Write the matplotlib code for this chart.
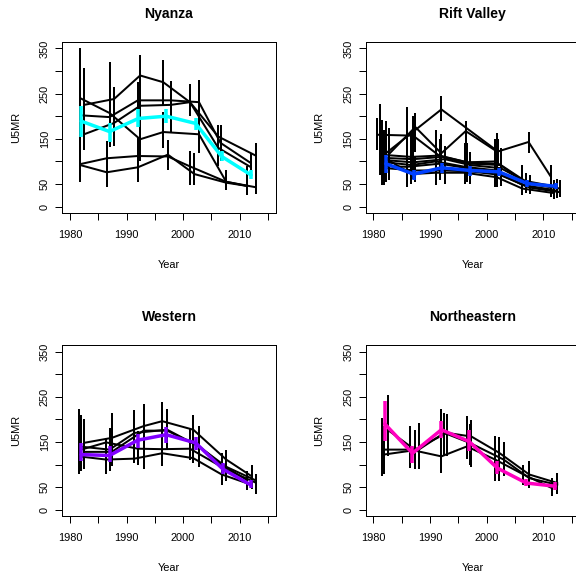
import matplotlib
matplotlib.use("Agg")
import matplotlib.pyplot as plt

plt.rcParams['font.family'] = ['Liberation Sans', 'DejaVu Sans']

W, H = 576, 572

region_names = ["Nyanza", "Rift Valley", "Western", "Northeastern"]
region_colors = ["#00FFFF", "#0040FF", "#8000FF", "#FF00BF"]

x_ticks = [1980, 1985, 1990, 1995, 2000, 2005, 2010, 2015]
x_tick_labels = ["1980", "", "1990", "", "2000", "", "2010", ""]
y_ticks = [0, 50, 100, 150, 200, 250, 300, 350]
y_tick_labels = ["0", "50", "", "150", "", "250", "", "350"]
x_label = "Year"
y_label = "U5MR"

# ---------------- Nyanza ----------------
nyanza_years = [
    [1982.5, 1987.8, 1992.4, 1996.5, 2001.2, 2006.2, 2012.8],
    [1981.8, 1987.0, 1992.0, 1997.8, 2002.8, 2006.6, 2012.0],
    [1982.5, 1987.8, 1992.4, 1997.8, 2001.2, 2006.2, 2012.0],
    [1981.8, 1987.0, 1992.4, 1996.5, 2002.8, 2007.6, 2011.2],
    [1981.8, 1986.5, 1992.0, 1997.3, 2001.2, 2007.6, 2012.8],
    [1981.8, 1986.5, 1992.0, 1997.3, 2002.0, 2007.6, 2011.2],
]
nyanza_u5mr = [
    [225, 238, 290, 275, 231, 155, 113],
    [202, 198, 235, 235, 231, 141, 96],
    [160, 185, 223, 225, 231, 130, 87],
    [240, 207, 149, 165, 160, 55, 46],
    [94, 107, 112, 111, 89, 55, 43],
    [92, 76, 87, 115, 72, 53, 46],
]
nyanza_lo = [
    [140, 180, 235, 225, 200, 125, 85],
    [150, 133, 178, 195, 178, 100, 72],
    [125, 135, 170, 166, 200, 89, 65],
    [170, 160, 100, 130, 118, 36, 26],
    [55, 65, 80, 80, 48, 36, 27],
    [55, 44, 55, 89, 48, 36, 26],
]
nyanza_hi = [
    [307, 265, 335, 325, 272, 181, 141],
    [350, 320, 275, 277, 280, 181, 118],
    [200, 240, 275, 277, 272, 160, 110],
    [350, 320, 200, 210, 200, 81, 90],
    [152, 145, 155, 148, 122, 81, 100],
    [150, 117, 132, 148, 118, 75, 90],
]
nyanza_mean_years = [1982.0, 1987.0, 1992.1, 1997.0, 2002.2, 2006.8, 2012.0]
nyanza_mean = [189, 166, 195, 200, 184, 111, 70]
nyanza_mean_lo = [155, 144, 176, 184, 169, 100, 61]
nyanza_mean_hi = [223, 185, 215, 216, 196, 122, 81]

# ---------------- Rift Valley ----------------
rift_years = [
    [1982.3, 1992.0, 2002.0, 2007.4, 2011.3],
    [1982.8, 1987.4, 1992.0, 1996.3, 2001.8],
    [1980.7, 1987.0, 1991.7, 1996.6, 2001.5],
    [1981.2, 1986.7, 1991.7, 1996.6, 2001.5, 2006.3, 2011.9],
    [1981.5, 1987.0, 1992.0, 1997.1, 2002.5, 2007.0, 2012.5],
    [1981.9, 1987.0, 1992.6, 1997.1, 2002.5, 2007.7, 2012.9],
    [1982.3, 1986.7, 1991.0, 1996.2, 2001.8, 2006.3, 2011.3],
    [1981.9, 1985.9, 1991.7, 1996.6, 2001.5, 2007.0, 2012.5],
    [1982.3, 1987.4, 1992.6, 1997.1, 2002.5, 2007.7, 2012.9],
    [1981.5, 1986.7, 1991.0, 1996.2, 2001.8, 2006.3, 2011.9],
]
rift_u5mr = [
    [119, 215, 122, 143, 67],
    [117, 176, 118, 167, 122],
    [159, 157, 112, 98, 95],
    [115, 110, 113, 98, 100, 58, 45],
    [108, 105, 110, 95, 92, 55, 42],
    [103, 98, 105, 92, 85, 50, 40],
    [98, 92, 100, 88, 80, 48, 38],
    [90, 88, 95, 85, 75, 45, 35],
    [85, 80, 80, 78, 70, 42, 32],
    [112, 72, 75, 75, 65, 40, 30],
]
rift_lo = [
    [70, 189, 90, 118, 30],
    [60, 120, 80, 120, 70],
    [125, 110, 75, 65, 55],
    [70, 60, 75, 70, 60, 35, 28],
    [48, 70, 80, 70, 60, 36, 25],
    [50, 62, 60, 60, 55, 35, 28],
    [55, 50, 48, 60, 50, 27, 22],
    [48, 44, 60, 55, 44, 30, 20],
    [55, 55, 50, 50, 45, 28, 22],
    [70, 50, 48, 50, 44, 25, 18],
]
rift_hi = [
    [190, 244, 150, 166, 92],
    [175, 207, 160, 189, 163],
    [195, 200, 150, 140, 140],
    [226, 160, 145, 130, 150, 92, 60],
    [192, 140, 140, 120, 130, 75, 62],
    [170, 135, 135, 120, 120, 70, 60],
    [160, 130, 169, 140, 115, 80, 75],
    [150, 220, 130, 120, 110, 65, 55],
    [130, 110, 115, 105, 100, 60, 48],
    [165, 105, 110, 100, 95, 60, 45],
]
rift_mean_years = [1982.2, 1987.1, 1992.1, 1997.1, 2002.2, 2007.2, 2012.2]
rift_mean = [95, 72, 86, 80, 77, 51, 45]
rift_mean_lo = [74, 59, 74, 68, 68, 43, 38]
rift_mean_hi = [115, 81, 96, 89, 85, 59, 53]

# ---------------- Western ----------------
western_years = [
    [1982.5, 1987.4, 1993.0, 1996.3, 2001.8, 2007.6, 2012.1],
    [1981.6, 1987.0, 1991.4, 1997.2, 2002.8, 2006.8, 2011.2],
    [1982.0, 1986.4, 1992.0, 1996.3, 2001.2, 2007.6, 2012.8],
    [1981.6, 1986.4, 1991.4, 1996.3, 2001.8, 2006.8, 2012.1],
    [1982.5, 1987.4, 1993.0, 1997.2, 2002.8, 2007.6, 2012.8],
]
western_u5mr = [
    [148, 159, 185, 196, 177, 111, 74],
    [140, 133, 170, 177, 140, 100, 66],
    [133, 149, 135, 134, 135, 89, 60],
    [118, 111, 113, 125, 114, 78, 55],
    [128, 128, 175, 175, 140, 95, 65],
]
western_lo = [
    [89, 96, 89, 96, 103, 63, 52],
    [78, 85, 103, 133, 95, 55, 43],
    [85, 78, 100, 96, 111, 63, 35],
    [80, 78, 103, 96, 103, 55, 45],
    [90, 96, 130, 133, 105, 70, 40],
]
western_hi = [
    [201, 213, 233, 238, 210, 133, 98],
    [222, 181, 220, 222, 185, 125, 85],
    [210, 159, 175, 175, 179, 120, 68],
    [175, 150, 160, 170, 150, 111, 85],
    [180, 200, 225, 210, 170, 130, 80],
]
western_mean_years = [1982.0, 1987.0, 1992.0, 1997.0, 2002.2, 2007.0, 2011.9]
western_mean = [122, 120, 154, 166, 148, 90, 55]
western_mean_lo = [107, 105, 137, 148, 133, 78, 48]
western_mean_hi = [148, 140, 168, 183, 162, 103, 66]

# ---------------- Northeastern ----------------
northeastern_years = [
    [1982.5, 1987.3, 1993.0, 1997.3, 2002.2, 2007.5, 2012.5],
    [1981.5, 1986.5, 1992.0, 1996.5, 2001.5, 2006.5, 2011.5],
    [1981.8, 1988.0, 1992.5, 1997.0, 2003.0, 2007.5, 2012.5],
]
northeastern_u5mr = [
    [177, 133, 170, 162, 126, 78, 59],
    [133, 133, 118, 140, 111, 78, 48],
    [122, 133, 170, 148, 111, 70, 55],
]
northeastern_lo = [
    [118, 89, 118, 95, 63, 50, 35],
    [74, 92, 81, 112, 63, 55, 30],
    [80, 89, 120, 100, 74, 48, 38],
]
northeastern_hi = [
    [255, 177, 212, 198, 160, 108, 82],
    [203, 185, 223, 208, 164, 100, 70],
    [185, 192, 215, 190, 149, 98, 75],
]
northeastern_mean_years = [1982.0, 1986.9, 1992.0, 1996.9, 2001.9, 2007.0, 2012.1]
northeastern_mean = [190, 125, 177, 151, 92, 59, 52]
northeastern_mean_lo = [151, 103, 159, 129, 78, 52, 43]
northeastern_mean_hi = [240, 142, 196, 176, 107, 68, 61]

panels = [
    (nyanza_years, nyanza_u5mr, nyanza_lo, nyanza_hi,
     nyanza_mean_years, nyanza_mean, nyanza_mean_lo, nyanza_mean_hi),
    (rift_years, rift_u5mr, rift_lo, rift_hi,
     rift_mean_years, rift_mean, rift_mean_lo, rift_mean_hi),
    (western_years, western_u5mr, western_lo, western_hi,
     western_mean_years, western_mean, western_mean_lo, western_mean_hi),
    (northeastern_years, northeastern_u5mr, northeastern_lo, northeastern_hi,
     northeastern_mean_years, northeastern_mean, northeastern_mean_lo, northeastern_mean_hi),
]

# box positions in pixels: left, right, top, bottom
boxes_px = [
    (62, 276, 42, 213),
    (365.5, 579.5, 42, 213),
    (62, 276, 345.3, 516),
    (365.5, 579.5, 345.3, 516),
]

fig = plt.figure(figsize=(W / 72, H / 72), dpi=72)

for i, (name, col, data, box) in enumerate(zip(region_names, region_colors, panels, boxes_px)):
    l, r, t, b = box
    ax = fig.add_axes([l / W, 1 - b / H, (r - l) / W, (b - t) / H])
    yrs, vals, los, his, myrs, mvals, mlo, mhi = data
    for xs, ys in zip(yrs, vals):
        ax.plot(xs, ys, color="black", lw=2, solid_capstyle="round", solid_joinstyle="round", zorder=2)
    for xs, lo, hi in zip(yrs, los, his):
        ax.vlines(xs, lo, hi, color="black", lw=2, zorder=2)
    ax.plot(myrs, mvals, color=col, lw=3.5, solid_capstyle="round", solid_joinstyle="round", zorder=3)
    ax.vlines(myrs, mlo, mhi, color=col, lw=3.5, zorder=3)

    ax.set_xlim(1978.6, 2016.4)
    ax.set_ylim(-14, 364)
    ax.set_xticks(x_ticks)
    ax.set_xticklabels(x_tick_labels, fontsize=11)
    ax.set_yticks(y_ticks)
    ax.set_yticklabels(y_tick_labels, fontsize=11, rotation=90, va="center")
    ax.tick_params(direction="out", length=7, width=1, color="black")
    ax.tick_params(axis="x", pad=10)
    ax.tick_params(axis="y", pad=5)
    for sp in ax.spines.values():
        sp.set_linewidth(1)
        sp.set_color("black")

    cx = (l + r) / 2
    fig.text(cx / W, 1 - (t - 24) / H, name, ha="center", va="baseline",
             fontsize=14, fontweight="bold")
    fig.text(cx / W, 1 - (b + 55) / H, x_label, ha="center", va="baseline", fontsize=11)
    fig.text((l - 43) / W, 1 - ((t + b) / 2) / H, y_label, ha="center", va="baseline",
             rotation=90, rotation_mode="anchor", fontsize=11)

fig.savefig("out.png", dpi=72)
